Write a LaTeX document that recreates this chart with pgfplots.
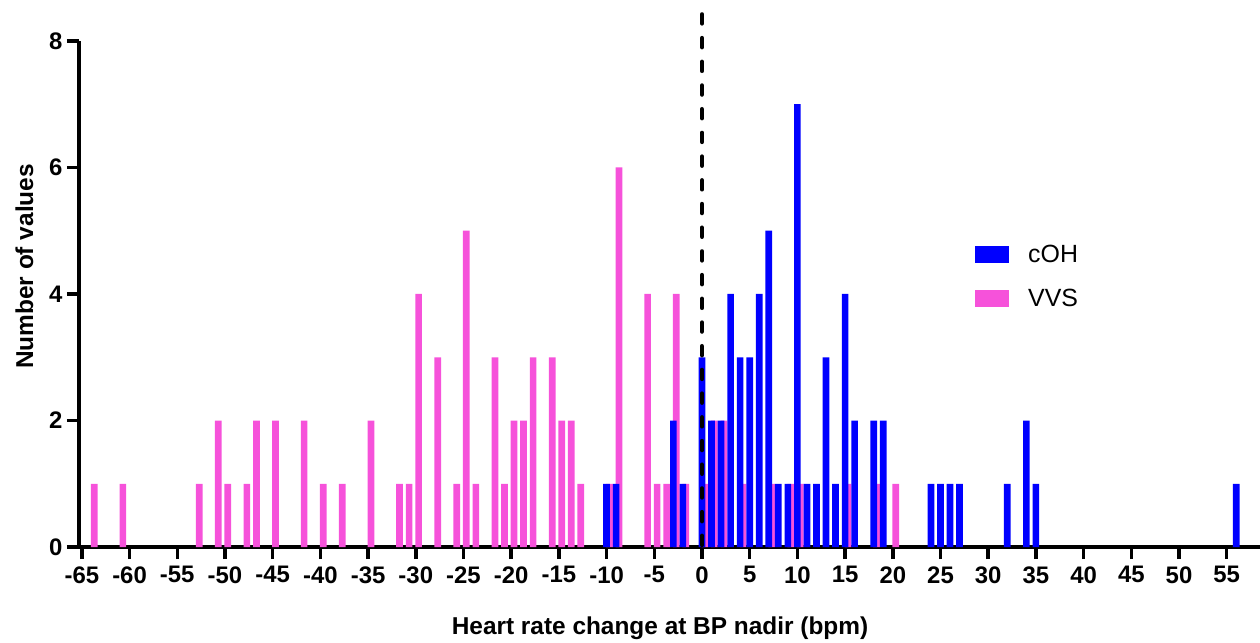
\documentclass[border=0pt]{standalone}
\usepackage{fontspec}
\setmainfont{Liberation Sans}
\usepackage{pgfplots}
\pgfplotsset{compat=1.18}
\definecolor{coh}{RGB}{0,0,255}
\definecolor{vvs}{RGB}{246,82,218}

\begin{document}
\begin{tikzpicture}
\begin{axis}[
  x=9.54bp, y=63.25bp,
  xmin=-65.3, xmax=58.5, ymin=0, ymax=8,
  axis x line*=bottom, axis y line*=left,
  axis line style={line width=3.5bp},
  xtick={-65,-60,...,55}, ytick={0,2,...,8},
  tick style={line width=3.5bp, black},
  major tick length=12bp,
  tick align=outside,
  /pgf/number format/assume math mode=true,
  ticklabel style={font=\bfseries\fontsize{24}{24}\selectfont},
  xticklabel style={yshift=-4bp},
  yticklabel style={xshift=-1bp},
  xlabel={Heart rate change at BP nadir (bpm)},
  ylabel={Number of values},
  label style={font=\bfseries\fontsize{24.5}{24.5}\selectfont},
  xlabel style={at={(axis cs:-4.4,-1.376)}, anchor=base},
  ylabel style={at={(axis cs:-70.1,4.435)}, anchor=base},
  legend style={at={(axis cs:28.62,4.806)}, anchor=north west, draw=none, fill=none,
    inner sep=0pt, row sep=21bp, font=\fontsize{25}{25}\selectfont,
    /tikz/every odd column/.append style={column sep=17bp}},
  legend cell align=left,
  legend image code/.code={\fill[#1] (0bp,-8.5bp) rectangle (34bp,8.5bp);},
  clip=false,
]
% VVS (drawn first, behind)
\addplot[ybar, bar width=0.7, bar shift=2.86bp, fill=vvs, draw=none, forget plot] coordinates {
(-64,1) (-61,1) (-53,1) (-51,2) (-50,1) (-48,1) (-47,2) (-45,2) (-42,2) (-40,1)
(-38,1) (-35,2) (-32,1) (-31,1) (-30,4) (-28,3) (-26,1) (-25,5) (-24,1) (-22,3)
(-21,1) (-20,2) (-19,2) (-18,3) (-16,3) (-15,2) (-14,2) (-13,1) (-10,1) (-9,6)
(-6,4) (-5,1) (-4,1) (-3,4) (-2,1) (0,1) (1,2) (2,2) (4,1) (7,1)
(9,1) (10,1) (15,1) (18,1) (20,1)
};
% cOH
\addplot[ybar, bar width=0.7, bar shift=0bp, fill=coh, draw=none] coordinates {
(-10,1) (-9,1) (-3,2) (-2,1) (0,3) (1,2) (2,2) (3,4) (4,3) (5,3)
(6,4) (7,5) (8,1) (9,1) (10,7) (11,1) (12,1) (13,3) (14,1) (15,4)
(16,2) (18,2) (19,2) (24,1) (25,1) (26,1) (27,1) (32,1) (34,2) (35,1)
(56,1)
};
\addlegendentry{cOH}
\addlegendimage{fill=vvs, draw=none}
\addlegendentry{VVS}
\draw[line width=4.5bp, line cap=round, dash pattern=on 9bp off 14.7bp] (axis cs:0,8.42) -- (axis cs:0,0);
\coordinate (bbl) at (axis cs:-73.58,-1.502);
\coordinate (btr) at (axis cs:58.49,8.648);
\end{axis}
\pgfresetboundingbox
\useasboundingbox (bbl) rectangle (btr);
\end{tikzpicture}
\end{document}
